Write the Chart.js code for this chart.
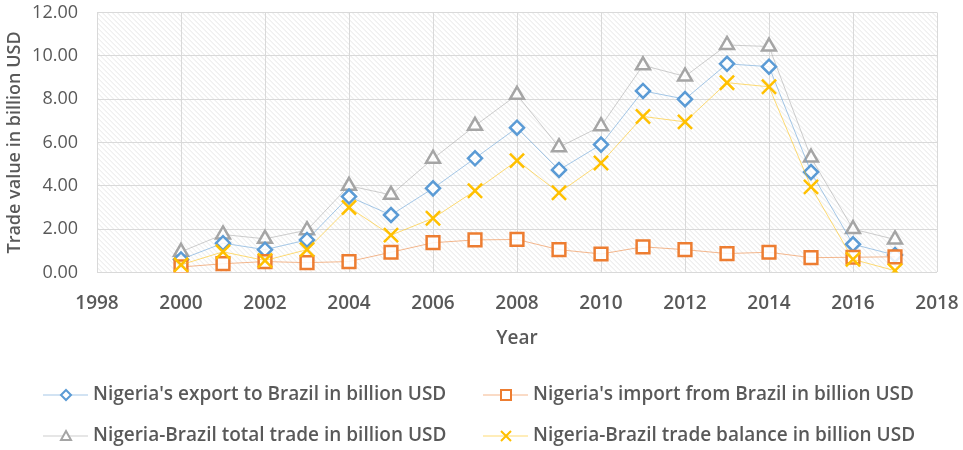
<!DOCTYPE html>
<html>
<head>
<meta charset="utf-8">
<script src="https://cdn.jsdelivr.net/npm/chart.js@4/dist/chart.umd.min.js"></script>
<style>
  html, body { margin: 0; padding: 0; background: #fff; }
  #wrap { width: 963px; height: 450px; }
</style>
</head>
<body>
<div id="wrap"><canvas id="myChart"></canvas></div>
<script>
const years = [2000, 2001, 2002, 2003, 2004, 2005, 2006, 2007, 2008, 2009, 2010, 2011, 2012, 2013, 2014, 2015, 2016, 2017];
const exportValues = [0.60, 1.35, 1.05, 1.50, 3.50, 2.65, 3.88, 5.27, 6.68, 4.73, 5.90, 8.38, 8.00, 9.63, 9.50, 4.63, 1.30, 0.80];
const importValues = [0.25, 0.40, 0.50, 0.45, 0.50, 0.93, 1.37, 1.50, 1.52, 1.05, 0.85, 1.18, 1.05, 0.87, 0.93, 0.68, 0.70, 0.72];
const totalValues = [0.95, 1.75, 1.55, 1.95, 4.00, 3.58, 5.25, 6.77, 8.20, 5.78, 6.75, 9.56, 9.05, 10.50, 10.43, 5.30, 2.00, 1.52];
const balanceValues = [0.35, 0.95, 0.55, 1.05, 3.00, 1.72, 2.50, 3.77, 5.16, 3.68, 5.05, 7.20, 6.95, 8.76, 8.57, 3.95, 0.60, 0.08];
const yTicks = [0, 2, 4, 6, 8, 10, 12];
const xTicks = [1998, 2000, 2002, 2004, 2006, 2008, 2010, 2012, 2014, 2016, 2018];

const seriesNames = [
    "Nigeria's export to Brazil in billion USD",
    "Nigeria's import from Brazil in billion USD",
    "Nigeria-Brazil total trade in billion USD",
    "Nigeria-Brazil trade balance in billion USD"
];

const FONT = "'Open Sans', sans-serif";
const TEXT = '#595959';

function points(values) {
    return years.map((y, i) => ({ x: y, y: values[i] }));
}

// diagonal hatch behind the plot
const hatch = {
    id: 'hatch',
    beforeDraw(chart) {
        const a = chart.chartArea;
        const ctx = chart.ctx;
        ctx.save();
        ctx.beginPath();
        ctx.rect(a.left, a.top, a.right - a.left, a.bottom - a.top);
        ctx.clip();
        ctx.strokeStyle = 'rgba(200,200,200,0.45)';
        ctx.lineWidth = 1;
        const h = a.bottom - a.top;
        for (let x = a.left - h; x < a.right; x += 5) {
            ctx.beginPath();
            ctx.moveTo(x, a.top);
            ctx.lineTo(x + h, a.bottom);
            ctx.stroke();
        }
        ctx.restore();
    }
};

function marker(ctx, style, x, y, r) {
    ctx.beginPath();
    if (style === 'rectRot') {
        ctx.moveTo(x, y - r); ctx.lineTo(x + r, y); ctx.lineTo(x, y + r); ctx.lineTo(x - r, y);
        ctx.closePath();
    } else if (style === 'rect') {
        ctx.rect(x - r, y - r, 2 * r, 2 * r);
    } else if (style === 'triangle') {
        ctx.moveTo(x, y - r); ctx.lineTo(x + r, y + r * 0.8); ctx.lineTo(x - r, y + r * 0.8);
        ctx.closePath();
    } else {
        ctx.moveTo(x - r, y - r); ctx.lineTo(x + r, y + r);
        ctx.moveTo(x + r, y - r); ctx.lineTo(x - r, y + r);
    }
    if (style !== 'crossRot') ctx.fill();
    ctx.stroke();
}

// legend in two columns, line with marker in the middle
const legend2 = {
    id: 'legend2',
    afterDraw(chart) {
        const ctx = chart.ctx;
        const cols = [43, 483];
        const rows = [395, 436];
        chart.data.datasets.forEach((ds, i) => {
            const x = cols[i % 2];
            const y = rows[Math.floor(i / 2)];
            ctx.save();
            ctx.strokeStyle = ds.borderColor;
            ctx.lineWidth = 1;
            ctx.beginPath();
            ctx.moveTo(x, y);
            ctx.lineTo(x + 45, y);
            ctx.stroke();
            ctx.lineWidth = 2;
            ctx.strokeStyle = ds.pointBorderColor;
            ctx.fillStyle = '#fff';
            marker(ctx, ds.pointStyle, x + 23, y, ds.legendRadius);
            ctx.fillStyle = TEXT;
            ctx.font = '600 19px ' + FONT;
            ctx.textBaseline = 'middle';
            ctx.fillText(ds.label, x + 50, y);
            ctx.restore();
        });
    }
};

const ctx = document.getElementById('myChart').getContext('2d');
const myChart = new Chart(ctx, {
    type: 'line',
    data: {
        datasets: [{
            label: seriesNames[0],
            data: points(exportValues),
            borderColor: 'rgba(91,155,213,0.55)',
            pointBorderColor: '#5B9BD5',
            pointBackgroundColor: 'rgba(255,255,255,0.85)',
            pointStyle: 'rectRot',
            pointRadius: 7,
            legendRadius: 5,
            order: 2
        }, {
            label: seriesNames[1],
            data: points(importValues),
            borderColor: 'rgba(237,125,49,0.55)',
            pointBorderColor: '#ED7D31',
            pointBackgroundColor: 'rgba(255,255,255,0.85)',
            pointStyle: 'rect',
            pointRadius: 9,
            legendRadius: 5,
            order: 1
        }, {
            label: seriesNames[2],
            data: points(totalValues),
            borderColor: 'rgba(165,165,165,0.55)',
            pointBorderColor: '#A5A5A5',
            pointBackgroundColor: 'rgba(255,255,255,0.85)',
            pointStyle: 'triangle',
            pointRadius: 8,
            legendRadius: 5,
            order: 3
        }, {
            label: seriesNames[3],
            data: points(balanceValues),
            borderColor: 'rgba(255,192,0,0.55)',
            pointBorderColor: '#FFC000',
            pointBackgroundColor: 'rgba(255,255,255,0)',
            pointStyle: 'crossRot',
            pointRadius: 10,
            legendRadius: 5,
            order: 0
        }]
    },
    options: {
        responsive: true,
        maintainAspectRatio: false,
        animation: false,
        datasets: {
            line: { borderWidth: 1, pointBorderWidth: 2.5, tension: 0 }
        },
        layout: { padding: { left: 0, right: 26, top: 10, bottom: 100 } },
        plugins: {
            legend: { display: false },
            tooltip: { enabled: false }
        },
        scales: {
            x: {
                type: 'linear',
                min: 1998,
                max: 2018,
                afterBuildTicks: s => { s.ticks = xTicks.map(v => ({ value: v })); },
                afterFit: s => { s.paddingLeft = 0; s.paddingRight = 0; },
                grid: { color: '#d9d9d9', drawTicks: false },
                border: { display: false },
                ticks: {
                    padding: 20,
                    color: TEXT,
                    font: { family: FONT, size: 19, weight: '600' },
                    callback: v => String(v)
                },
                title: {
                    display: true,
                    text: 'Year',
                    color: TEXT,
                    padding: { top: -8, bottom: 0 },
                    font: { family: FONT, size: 19, weight: '600' }
                }
            },
            y: {
                min: 0,
                max: 12,
                afterBuildTicks: s => { s.ticks = yTicks.map(v => ({ value: v })); },
                afterFit: s => { s.width = 97; s.paddingTop = 0; s.paddingBottom = 0; },
                grid: { color: '#d9d9d9', drawTicks: false },
                border: { display: false },
                ticks: {
                    padding: 19,
                    color: TEXT,
                    font: { family: FONT, size: 18 },
                    callback: v => v.toFixed(2)
                },
                title: {
                    display: true,
                    text: 'Trade value in billion USD',
                    color: TEXT,
                    padding: { top: 4, bottom: 0 },
                    font: { family: FONT, size: 18, weight: '600' }
                }
            }
        }
    },
    plugins: [hatch, legend2]
});
</script>
</body>
</html>
